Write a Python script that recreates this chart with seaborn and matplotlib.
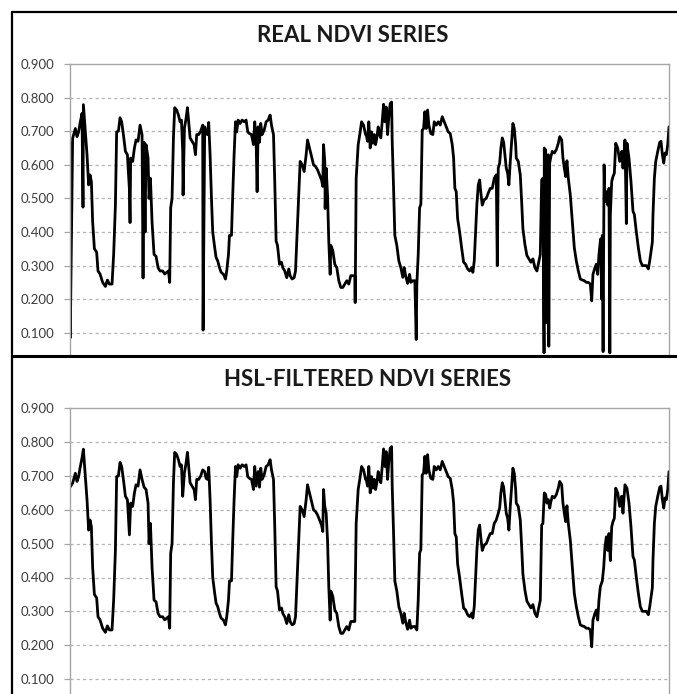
import numpy as np
import pandas as pd
import matplotlib
matplotlib.use("Agg")
import matplotlib.pyplot as plt
import seaborn as sns
from matplotlib.lines import Line2D

# ---------------- data ----------------
# observation day (days since start of record) and HSL-filtered NDVI
filt_day = [0, 21, 43, 56, 69, 80, 96, 107, 123, 136, 149, 160, 171, 181, 195, 213, 224, 240, 261, 283,
            299, 315, 336, 349, 363, 373, 387, 400, 413, 427, 443, 459, 475, 485, 501, 515, 528, 544, 560, 576,
            592, 608, 624, 632, 643, 656, 672, 688, 704, 720, 741, 757, 773, 787, 797, 805, 816, 827, 837, 853,
            867, 880, 891, 901, 915, 928, 939, 949, 960, 976, 992, 1003, 1013, 1029, 1045, 1061, 1077, 1088, 1099, 1109,
            1120, 1131, 1141, 1157,
            1168, 1181, 1195, 1208, 1227, 1243, 1253, 1267, 1275, 1291, 1301, 1312, 1323, 1333, 1344, 1360, 1376, 1392, 1408, 1421,
            1435, 1451, 1467, 1477, 1488, 1504, 1515, 1525, 1536, 1552, 1568, 1584, 1600, 1611, 1627, 1637, 1648, 1659, 1675, 1691,
            1701, 1717, 1733, 1749, 1760, 1776, 1792, 1803, 1813, 1829, 1840, 1856, 1872, 1888, 1899, 1915, 1931, 1947, 1963, 1979,
            1995, 2011, 2021, 2027, 2037, 2048, 2059, 2069, 2080, 2085, 2101, 2117, 2133, 2149, 2165, 2181, 2197, 2213, 2229, 2245,
            2261, 2277, 2288, 2304, 2320, 2331, 2347, 2363,
            2368, 2379, 2389, 2400, 2411, 2421, 2432, 2443, 2453, 2464, 2475, 2485, 2496, 2507, 2517, 2528, 2539, 2549, 2560, 2571,
            2576, 2587, 2597, 2613, 2629, 2645, 2661, 2672, 2683, 2699, 2715, 2725, 2741, 2757, 2773, 2784, 2795, 2805, 2816, 2827,
            2837, 2848, 2859, 2869, 2885, 2901, 2912, 2928, 2944, 2960, 2976, 2992, 3008, 3024, 3040, 3056, 3067, 3077, 3088, 3099,
            3115, 3131, 3147, 3163, 3179, 3195, 3211, 3221, 3232, 3243, 3253, 3264, 3275, 3285, 3296, 3312, 3328, 3344, 3360, 3376,
            3392, 3408, 3424, 3435, 3445, 3456, 3467, 3477, 3488, 3499, 3509, 3520, 3531, 3541, 3552, 3563,
            3568, 3584, 3600, 3611, 3621, 3637, 3653, 3669, 3685, 3701, 3717, 3733, 3749, 3760, 3771, 3781, 3792, 3803, 3813, 3824,
            3835, 3845, 3856, 3872, 3888, 3904, 3915, 3931, 3941, 3952, 3963, 3973, 3984, 4000, 4016, 4032, 4048, 4064, 4080, 4096,
            4112, 4128, 4144, 4160, 4171, 4181, 4197, 4208, 4219, 4229, 4240, 4256, 4267, 4277, 4288, 4299, 4309, 4320, 4331, 4341,
            4352, 4363, 4379, 4395, 4411, 4421, 4437, 4453, 4469, 4485, 4501, 4512, 4528, 4544, 4560, 4576, 4592, 4608, 4624, 4635,
            4645, 4656, 4661, 4672, 4683, 4699, 4715, 4725, 4736, 4747, 4757, 4768, 4779, 4789]

filt_ndvi = [0.667, 0.679, 0.708, 0.684, 0.698, 0.723, 0.753, 0.779, 0.698, 0.630, 0.540, 0.570, 0.550, 0.430, 0.350, 0.340, 0.284, 0.275, 0.250, 0.238,
             0.257, 0.245, 0.245, 0.333, 0.480, 0.698, 0.700, 0.740, 0.728, 0.690, 0.640, 0.630, 0.526, 0.620, 0.610, 0.650, 0.674, 0.670, 0.718, 0.690,
             0.667, 0.660, 0.620, 0.500, 0.560, 0.430, 0.333, 0.328, 0.294, 0.284, 0.284, 0.275, 0.280, 0.284, 0.250, 0.472, 0.500, 0.680, 0.770, 0.763,
             0.748, 0.728, 0.733, 0.640, 0.710, 0.738, 0.770, 0.728, 0.680, 0.670, 0.660, 0.630, 0.690, 0.690, 0.700, 0.718, 0.713, 0.693, 0.690, 0.726,
             0.630, 0.500, 0.400, 0.353,
             0.324, 0.314, 0.294, 0.280, 0.274, 0.260, 0.284, 0.333, 0.390, 0.390, 0.510, 0.630, 0.728, 0.698, 0.733, 0.723, 0.733, 0.728, 0.733, 0.698,
             0.693, 0.690, 0.660, 0.728, 0.670, 0.713, 0.667, 0.723, 0.690, 0.703, 0.728, 0.733, 0.748, 0.718, 0.690, 0.550, 0.373, 0.360, 0.304, 0.310,
             0.294, 0.284, 0.264, 0.290, 0.270, 0.260, 0.264, 0.284, 0.373, 0.510, 0.610, 0.600, 0.580, 0.630, 0.674, 0.650, 0.625, 0.600, 0.595, 0.585,
             0.570, 0.555, 0.536, 0.660, 0.610, 0.590, 0.510, 0.373, 0.274, 0.360, 0.345, 0.304, 0.294, 0.255, 0.235, 0.235, 0.245, 0.255, 0.245, 0.270,
             0.270, 0.270, 0.560, 0.660, 0.698, 0.728, 0.718, 0.690,
             0.690, 0.670, 0.728, 0.650, 0.698, 0.664, 0.690, 0.660, 0.680, 0.713, 0.690, 0.680, 0.728, 0.780, 0.728, 0.772, 0.690, 0.743, 0.782, 0.787,
             0.670, 0.530, 0.390, 0.360, 0.314, 0.294, 0.265, 0.294, 0.270, 0.247, 0.274, 0.250, 0.255, 0.255, 0.245, 0.333, 0.472, 0.482, 0.703, 0.708,
             0.758, 0.708, 0.763, 0.718, 0.693, 0.690, 0.728, 0.718, 0.728, 0.718, 0.743, 0.728, 0.713, 0.698, 0.693, 0.660, 0.620, 0.530, 0.520, 0.440,
             0.400, 0.353, 0.310, 0.304, 0.290, 0.284, 0.294, 0.280, 0.314, 0.400, 0.482, 0.540, 0.555, 0.516, 0.480, 0.496, 0.500, 0.516, 0.530, 0.530,
             0.560, 0.570, 0.590, 0.605, 0.650, 0.680, 0.667, 0.630, 0.590, 0.575, 0.540, 0.610, 0.670, 0.723, 0.708, 0.660,
             0.620, 0.610, 0.570, 0.490, 0.410, 0.363, 0.330, 0.320, 0.310, 0.320, 0.294, 0.284, 0.314, 0.333, 0.555, 0.560, 0.650, 0.645, 0.620, 0.630,
             0.605, 0.625, 0.640, 0.635, 0.645, 0.664, 0.684, 0.674, 0.620, 0.590, 0.565, 0.612, 0.560, 0.510, 0.430, 0.353, 0.314, 0.284, 0.260, 0.257,
             0.255, 0.250, 0.250, 0.245, 0.195, 0.274, 0.294, 0.304, 0.274, 0.333, 0.373, 0.390, 0.430, 0.490, 0.520, 0.480, 0.530, 0.450, 0.550, 0.565,
             0.575, 0.664, 0.650, 0.610, 0.640, 0.590, 0.674, 0.664, 0.620, 0.550, 0.462, 0.452, 0.400, 0.353, 0.314, 0.300, 0.300, 0.300, 0.290, 0.314,
             0.340, 0.370, 0.452, 0.560, 0.610, 0.640, 0.667, 0.670, 0.630, 0.605, 0.635, 0.630, 0.660, 0.713]

# raw observations removed by the HSL filter (cloud / noise drop-outs) in the real series
spike_day = [2, 104, 480, 584, 592, 600, 904, 1064, 1496, 2040, 2280, 2768, 2992, 3416,
             3790, 3796, 3808, 3818, 3828, 4244, 4250, 4262, 4270, 4316, 4448]
spike_ndvi = [0.085, 0.474, 0.428, 0.263, 0.700, 0.400, 0.510, 0.108, 0.520, 0.470, 0.190, 0.080, 0.450, 0.300,
              0.040, 0.600, 0.130, 0.620, 0.060, 0.380, 0.200, 0.044, 0.600, 0.040, 0.425]

y_ticks = [0.1, 0.2, 0.3, 0.4, 0.5, 0.6, 0.7, 0.8, 0.9]
titles = ["REAL NDVI SERIES", "HSL-FILTERED NDVI SERIES"]

# --------------- tables ---------------
filtered = pd.DataFrame({"day": filt_day, "ndvi": filt_ndvi})
real = pd.concat([filtered, pd.DataFrame({"day": spike_day, "ndvi": spike_ndvi})]).sort_values("day")
real = real.drop_duplicates("day", keep="last")

# --------------- figure ---------------
sns.set_theme(style="white")
plt.rcParams["font.family"] = ["Lato", "DejaVu Sans"]

W, H = 677, 694
fig = plt.figure(figsize=(W / 100, H / 100), dpi=100)

def fx(px):
    return px / W

def fy(py):
    return 1 - py / H

ax_top = fig.add_axes([fx(70), fy(355), fx(599), (355 - 64) / H])
ax_bot = fig.add_axes([fx(70), 0, fx(599), (694 - 408.3) / H])

ylims = [(0.9 - (355 - 64) / 336.0, 0.9), (0.9 - (694 - 408.3) / 338.4, 0.9)]

for ax, df, lim in [(ax_top, real, ylims[0]), (ax_bot, filtered, ylims[1])]:
    sns.lineplot(data=df, x="day", y="ndvi", ax=ax, color="black", lw=2.0,
                 estimator=None, sort=True)
    ax.set_xlim(0, 4789)
    ax.set_ylim(*lim)
    ax.set_yticks(y_ticks)
    ax.set_yticklabels([f"{v:.3f}" for v in y_ticks])
    ax.set_xticks([])
    ax.set_xlabel("")
    ax.set_ylabel("")
    for v in y_ticks[:-1]:
        ax.axhline(v, color="#b3b3b3", lw=0.9, ls=(0, (2.5, 2.5)), zorder=0)
    for s in ["left", "top", "right"]:
        ax.spines[s].set_visible(True)
        ax.spines[s].set_color("#a6a6a6")
        ax.spines[s].set_linewidth(1.0)
    ax.spines["bottom"].set_visible(False)
    ax.tick_params(axis="y", length=4, width=0.9, color="#a6a6a6", pad=7,
                   labelsize=9.5, labelcolor="#3c3c3c", left=True)
    ax.set_facecolor("white")

# titles
fig.text(fx(353), fy(35), titles[0], ha="center", va="center",
         fontsize=16, fontweight="bold", color="#1a1a1a")
fig.text(fx(368), fy(379), titles[1], ha="center", va="center",
         fontsize=16, fontweight="bold", color="#1a1a1a")

# panel frames
frame_kw = dict(color="black", lw=1.6, transform=fig.transFigure, clip_on=False)
fig.add_artist(Line2D([fx(12), fx(12)], [fy(12), fy(694)], **frame_kw))
fig.add_artist(Line2D([fx(12), fx(677)], [fy(12), fy(12)], **frame_kw))
fig.add_artist(Line2D([fx(12), fx(677)], [fy(356), fy(356)], color="black", lw=2.2,
                      transform=fig.transFigure, clip_on=False))

fig.savefig("out.png", dpi=100, facecolor="white")
